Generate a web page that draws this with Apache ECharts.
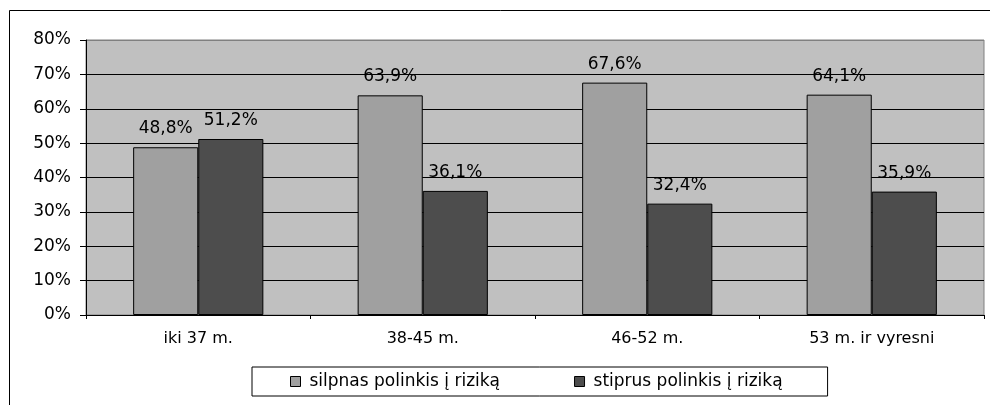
<!DOCTYPE html>
<html>
<head>
<meta charset="utf-8">
<script src="https://cdn.jsdelivr.net/npm/echarts@6/dist/echarts.min.js"></script>
<style>
  html, body { margin: 0; padding: 0; background: #fff; }
  #chart { width: 990px; height: 405px; }
</style>
</head>
<body>
<div id="chart"></div>
<script>
const categories = ['iki 37 m.', '38-45 m.', '46-52 m.', '53 m. ir vyresni']
const seriesNames = ['silpnas polinkis į riziką', 'stiprus polinkis į riziką']
const weakValues = [48.8, 63.9, 67.6, 64.1]
const strongValues = [51.2, 36.1, 32.4, 35.9]

const FONT = '"DejaVu Sans", "Liberation Sans", sans-serif'

const pct = (v) => v.toFixed(1).replace('.', ',') + '%'

const chart = echarts.init(document.getElementById('chart'), undefined, { renderer: 'canvas' })

function barSeries(name, data, color) {
  return {
    name,
    type: 'bar',
    data,
    barGap: '0%',
    barCategoryGap: '42%',
    itemStyle: { color, borderColor: '#000', borderWidth: 1 },
    label: {
      show: true,
      position: 'top',
      distance: 10,
      color: '#000',
      fontFamily: FONT,
      fontSize: 17,
      formatter: (p) => pct(p.value),
    },
    emphasis: { disabled: true },
  }
}

chart.setOption({
  backgroundColor: '#fff',
  animation: false,
  textStyle: { fontFamily: FONT },
  graphic: [
    {
      type: 'rect',
      shape: { x: 9.5, y: 10.5, width: 1000, height: 500 },
      style: { fill: 'none', stroke: '#000', lineWidth: 1 },
      silent: true,
    },
  ],
  grid: {
    left: 86,
    right: 6,
    top: 40,
    bottom: 90,
    show: true,
    backgroundColor: '#c0c0c0',
    borderColor: '#808080',
    borderWidth: 1,
  },
  legend: {
    data: seriesNames,
    left: 252,
    top: 367,
    orient: 'horizontal',
    icon: 'rect',
    itemWidth: 10,
    itemHeight: 10,
    itemGap: 74,
    padding: [6, 45, 6, 38],
    borderColor: '#000',
    borderWidth: 1,
    backgroundColor: '#fff',
    itemStyle: { borderColor: '#000', borderWidth: 1 },
    textStyle: { color: '#000', fontFamily: FONT, fontSize: 17, padding: [0, 0, 0, 4] },
    selectedMode: false,
  },
  xAxis: {
    type: 'category',
    data: categories,
    axisLine: { lineStyle: { color: '#000', width: 1 } },
    axisTick: { show: true, length: 4, lineStyle: { color: '#000' } },
    axisLabel: { color: '#000', fontFamily: FONT, fontSize: 16, margin: 16 },
  },
  yAxis: {
    type: 'value',
    min: 0,
    max: 80,
    interval: 10,
    axisLine: { show: true, lineStyle: { color: '#000', width: 1 } },
    axisTick: { show: true, length: 6, lineStyle: { color: '#000' } },
    axisLabel: {
      color: '#000',
      fontFamily: FONT,
      fontSize: 17,
      margin: 15,
      formatter: (v) => v + '%',
    },
    splitLine: {
      show: true,
      lineStyle: {
        color: ['#000', '#000', '#000', '#000', '#000', '#000', '#000', '#000', '#808080'],
        width: 1,
      },
    },
  },
  series: [
    barSeries(seriesNames[0], weakValues, '#a0a0a0'),
    barSeries(seriesNames[1], strongValues, '#4d4d4d'),
  ],
})
</script>
</body>
</html>
